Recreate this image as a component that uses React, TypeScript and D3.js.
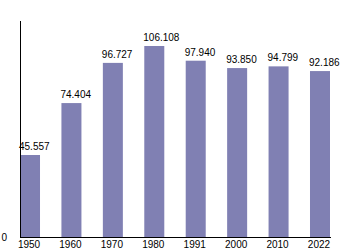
import React from "react";
import * as d3 from "d3";

const years = ["1950", "1960", "1970", "1980", "1991", "2000", "2010", "2022"];
const values = [45.557, 74.404, 96.727, 106.108, 97.94, 93.85, 94.799, 92.186];
const labels = ["45.557", "74.404", "96.727", "106.108", "97.940", "93.850", "94.799", "92.186"];

export default function App() {
  const W = 350, H = 250;
  const left = 20, base = 237, top = 21, right = 331;
  const x = d3.scaleBand<string>().domain(years).range([left, 330]).paddingInner(0.517).paddingOuter(0).align(0);
  const y = d3.scaleLinear().domain([0, 120]).range([base, top]);
  const font = "Liberation Sans, Arial, sans-serif";
  return (
    <svg width={W} height={H} style={{ position: "absolute", left: 0, top: 0 }} fontFamily={font}>
      {years.map((yr, i) => (
        <g key={yr}>
          <rect x={x(yr)} y={y(values[i])} width={x.bandwidth()} height={base - y(values[i])} fill="#8080b3" />
          <text x={(x(yr) as number) - 1} y={y(values[i]) - 5} fontSize={10} textAnchor="start" fill="#000">{labels[i]}</text>
          <text x={(x(yr) as number) + x.bandwidth() / 2 - 1} y={248} fontSize={10} textAnchor="middle" fill="#000">{yr}</text>
        </g>
      ))}
      <line x1={left + 0.5} x2={left + 0.5} y1={top} y2={base} stroke="#000" />
      <line x1={left} x2={right} y1={base + 0.5} y2={base + 0.5} stroke="#000" />
      <text x={7} y={241} fontSize={10} textAnchor="end" fill="#000">0</text>
    </svg>
  );
}
